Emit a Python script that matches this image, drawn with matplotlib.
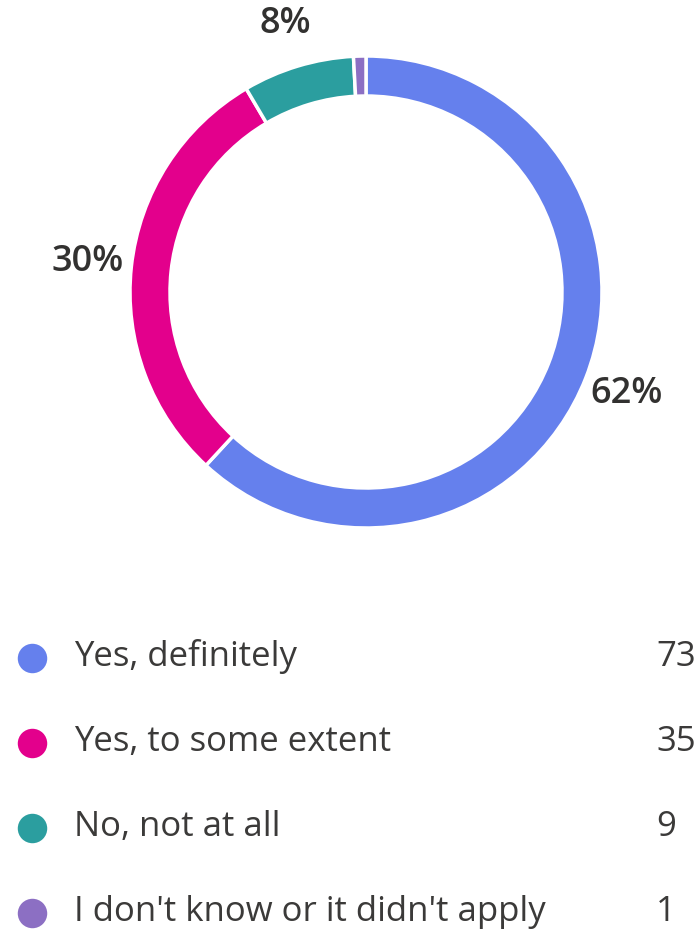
import numpy as np
import matplotlib.pyplot as plt

# survey answers
labels = ["Yes, definitely", "Yes, to some extent", "No, not at all",
          "I don't know or it didn't apply"]
counts = [73, 35, 9, 1]
colors = ["#6580ED", "#E3008C", "#2B9E9F", "#8C6FC3"]

W, H = 698, 932
plt.rcParams["font.family"] = ["Open Sans", "DejaVu Sans"]

fig = plt.figure(figsize=(W / 100, H / 100), dpi=100)
ax = fig.add_axes([0, 0, 1, 1])

# donut, pixel coords with y flipped so the figure reads top-down
cx, cy = 366, H - 292
r_out, ring = 236, 40
wedges, _ = ax.pie(counts, colors=colors, startangle=90, counterclock=False,
                   center=(cx, cy), radius=r_out,
                   wedgeprops=dict(width=ring, edgecolor="white", linewidth=2.5))

# percent labels outside the ring, skip tiny slices
total = sum(counts)
for w, c in zip(wedges, counts):
    pct = round(c / total * 100)
    if pct < 5:
        continue
    mid = np.deg2rad((w.theta1 + w.theta2) / 2)
    r_lab = 280
    ax.text(cx + r_lab * np.cos(mid), cy + r_lab * np.sin(mid), f"{pct}%",
            ha="center", va="center", fontsize=26,
            fontweight="semibold", color="#323130")

# legend rows
row0, step = 657, 85
for i, (lab, c, col) in enumerate(zip(labels, counts, colors)):
    y = H - (row0 + i * step)
    ax.scatter([32], [y - 1], s=450, color=col, linewidths=0)
    ax.text(74, y, lab, ha="left", va="center", fontsize=25, color="#3b3a39")
    ax.text(656, y, str(c), ha="left", va="center", fontsize=25, color="#3b3a39")

ax.set_xlim(0, W)
ax.set_ylim(0, H)
ax.set_aspect("equal")
ax.axis("off")
fig.savefig("out.png", dpi=100, facecolor="white")
